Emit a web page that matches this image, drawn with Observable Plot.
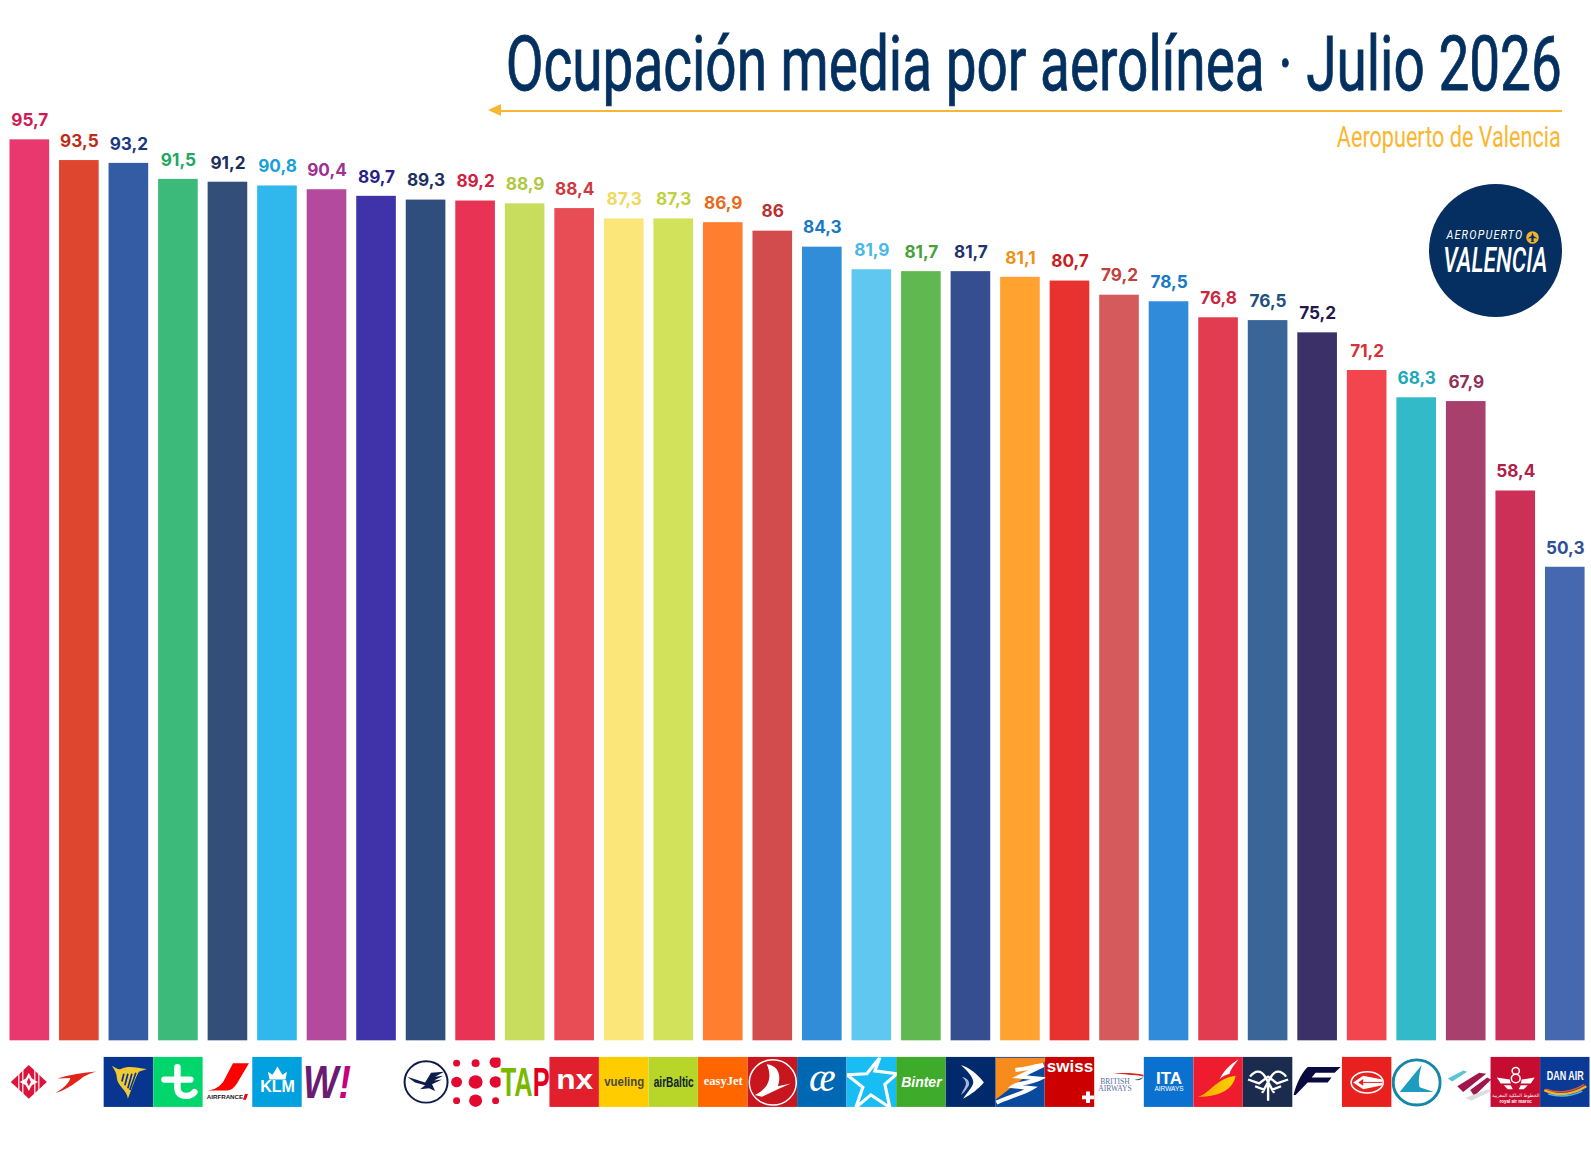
<!DOCTYPE html>
<html lang="es">
<head>
<meta charset="utf-8">
<title>Ocupación media por aerolínea · Julio 2026</title>
<style>
  html,body{margin:0;padding:0;background:#fff;}
  #page{position:relative;width:1591px;height:1150px;overflow:hidden;background:#fff;}
  #chart{position:absolute;left:0;top:0;}
  #chart svg{display:block;}
  .fit{position:absolute;white-space:nowrap;margin:0;line-height:1;font-family:Roboto,"Liberation Sans",sans-serif;font-weight:500;transform-origin:100% 50%;}
  #title{color:#03305f;font-size:76px;font-weight:400;top:26px;right:29px;-webkit-text-stroke:.9px #03305f;}
  #subtitle{color:#fbb62e;font-size:30px;top:122px;right:30px;font-weight:400;}
  #rule{position:absolute;left:500px;width:1061.7px;top:110px;height:1.6px;background:#f7b733;}
  #arrow{position:absolute;left:488px;top:104px;width:0;height:0;border-top:6.5px solid transparent;border-bottom:6.5px solid transparent;border-right:13px solid #f7b733;}
  #badge{position:absolute;left:1429px;top:184px;width:133px;height:133px;border-radius:50%;background:#042f60;}
  #b1{color:#fff;font-size:13.5px;font-style:italic;font-weight:400;top:44px;right:39px;letter-spacing:1.5px;}
  #b2{color:#fff;font-size:35px;line-height:28px;font-style:italic;font-weight:500;top:63px;right:15px;}
  #plane{position:absolute;left:96.5px;top:47px;}
</style>
</head>
<body>
<div id="page">
  <div id="chart"></div>
  <h1 id="title" class="fit">Ocupación media por aerolínea · Julio 2026</h1>
  <div id="rule"></div><div id="arrow"></div>
  <div id="subtitle" class="fit">Aeropuerto de Valencia</div>
  <div id="badge">
    <div id="b1" class="fit">AEROPUERTO</div>
    <svg id="plane" width="13" height="13" viewBox="0 0 13 13"><circle cx="6.5" cy="6.5" r="6.3" fill="#f3b229"/><path d="M6.5 1.5 L7.7 5 L11.5 7.5 L7.7 7 L7.5 10 L8.5 11 L4.5 11 L5.5 10 L5.3 7 L1.5 7.5 L5.3 5Z" fill="#042f60"/></svg>
    <div id="b2" class="fit">VALENCIA</div>
  </div>
</div>

<script src="https://cdn.jsdelivr.net/npm/d3@7"></script>
<script src="https://cdn.jsdelivr.net/npm/@observablehq/plot@0.6"></script>
<script>
// ---------- chart values ----------
const airlines = ["Air Nostrum","Olympic","Ryanair","Transavia","Air France","KLM","Wizz Air","Sin logo","Lufthansa","Puntos","TAP","Norwegian","Vueling","airBaltic","easyJet","Turkish Airlines","Air Europa","Air Transat","Binter","Aegean","Sky Express","Swiss","British Airways","ITA Airways","Iberia","Air Serbia","Finnair","Air Algérie","Luxair","Eurowings","Royal Air Maroc","Dan Air"];
const occupancy = [95.7,93.5,93.2,91.5,91.2,90.8,90.4,89.7,89.3,89.2,88.9,88.4,87.3,87.3,86.9,86,84.3,81.9,81.7,81.7,81.1,80.7,79.2,78.5,76.8,76.5,75.2,71.2,68.3,67.9,58.4,50.3];
const barColors = ["#e8386d","#de4630","#345ca4","#3cba7a","#334f79","#30b8ec","#b44a9e","#4033aa","#2f4e7e","#e83355","#c8dc5e","#e84d55","#fbe67a","#d2e25a","#ff7e30","#d24b4d","#318dd8","#60c8f0","#60b850","#354e90","#ffa230","#e83230","#d45a5c","#308cda","#e23c50","#3a6598","#3b3068","#f2454e","#32bac8","#a8406e","#cc3056","#4668b0"];
const labelColors = ["#d01a56","#c02a18","#1a3a80","#1fa862","#1a2e58","#18a0d8","#a03090","#2a1f88","#1b3260","#d02040","#b0c840","#d03840","#f0d860","#c0d040","#e86a18","#b83030","#1a78c8","#48b8e8","#48a038","#1e3470","#f09018","#c82020","#c04040","#1a78c8","#c82840","#22507f","#22184f","#d83038","#20a8b8","#903058","#b02048","#2e5098"];
const bars = airlines.map((airline,i)=>({airline,value:occupancy[i],color:barColors[i],ink:labelColors[i]}));

// ---------- logo row ----------
const tileColors = {"Ryanair":"#073590","Transavia":"#00d66c","KLM":"#00a1de","Norwegian":"#e21f2d","Vueling":"#ffcc00","airBaltic":"#b7d629","easyJet":"#ff6600","Turkish Airlines":"#c8161e","Air Europa":"#0068b2","Air Transat":"#18bef3","Binter":"#3fab2b","Aegean":"#002a6c","Sky Express":"#0a4a9e","Swiss":"#cc0000","ITA Airways":"#0b71d1","Iberia":"#ee1c2e","Air Serbia":"#1a2b4d","Air Algérie":"#e8201e","Royal Air Maroc":"#c60c30","Dan Air":"#0b3a96"};
const tiles = Object.entries(tileColors).map(([airline,color])=>({airline,color}));
const glyphs = {
  "Air Nostrum":`<path fill="#dc143c" d="M24 8 L42 25.5 L24 43 L6 25.5Z"/><path fill="none" stroke="#fff" stroke-width="1.2" d="M14 14 V37 M18 11 V40 M30 11 V40 M34 14 V37"/><path fill="#fff" d="M24 16 L27 22 L33 25.5 L27 29 L24 35 L21 29 L15 25.5 L21 22Z"/><path fill="#dc143c" d="M24 21 L26 25.5 L24 30 L22 25.5Z"/>`,
  "Olympic":`<path fill="#e2231a" d="M42 14.7 C30 16 14 18 3 22 L16 21.5 C15 27 8 33 1 37 C14 33 24 24 29 20 C33 18 38 16 42 14.7Z"/>`,
  "Ryanair":`<path fill="#f1c933" d="M8 9 C11 10 13 13 17 12 C25 8 33 11 43 12 L35 15 C31 22 28 33 24 43 C23 34 14 30 13 22 C13 17 11 13 8 9Z"/><path stroke="#073590" stroke-width="1.7" fill="none" d="M20 17 L18 25 M24 17 L21 29 M28 17 L24 32 M32 16 L26 34"/>`,
  "Transavia":`<path d="M24 10 V31 Q24 40 33 40 Q38 40 41 36 M11 23 H37" stroke="#fff" stroke-width="6.5" fill="none" stroke-linecap="round"/>`,
  "Air France":`<path fill="#f00" d="M30 6 H46 L34 27 Q30 34 24 34.5 H5 Q18 33 23 20Z M42 38 H45 L43 44 H40Z"/>`,
  "KLM":`<path fill="#fff" d="M17 23 L15.5 15 L20 18 L23 13 L25 9.5 L27 13 L30 18 L34.5 15 L33 23Z"/>`,
  "Lufthansa":`<circle cx="25" cy="25.5" r="21.5" fill="#fff" stroke="#0d1c4b" stroke-width="2"/><path fill="#0d1c4b" d="M6 20 L24 26 L30 16 L43 15 L34 20 L42 19 L33 24 L41 23 L31 28 L34 35 L28 32 L19 33 L24 29 L14 26Z"/>`,
  "Puntos":`<g fill="#e30a31"><circle cx="6" cy="6" r="3.5"/><circle cx="25" cy="6" r="4"/><circle cx="45" cy="5" r="6"/><circle cx="6" cy="25.5" r="5.5"/><circle cx="25" cy="25.5" r="7"/><circle cx="45" cy="25.5" r="6"/><circle cx="6" cy="45" r="3.5"/><circle cx="25" cy="45" r="6.5"/><circle cx="45" cy="45" r="3.5"/></g>`,
  "Turkish Airlines":`<circle cx="25" cy="26" r="23.5" fill="none" stroke="#fff" stroke-width="1.5"/><path fill="#fff" d="M19 7 C30 8 34 18 30 30 L43 27 L30 33 L14 41 L7 39 C18 34 26 24 19 7Z"/>`,
  "Air Transat":`<path fill="none" stroke="#fff" stroke-width="3.2" stroke-linejoin="miter" d="M33 0 L28 14 L50 17 L38 28 L43 52 L24 39 L9 52 L16 31 L0 18 L20 17Z"/>`,
  "Aegean":`<path fill="#fff" d="M15 8 C24 11 32 18 38 26 C32 33 26 38 17 43 C21 37 25 33 27 28 C29 24 24 16 15 8Z"/><path fill="#a9b4de" d="M16 20 C22 22 24 25 23 29 C21 33 18 37 15 39 C17 34 20 30 20 27 C20 24 18 22 16 20Z"/>`,
  "Sky Express":`<path fill="#f68b1e" d="M0 0 H50 V4 L0 44Z"/><path fill="none" stroke="#fff" stroke-width="4.2" d="M20 13 C30 12 40 9 48 8 L24 20 L44 22 C34 27 22 27 18 30 L36 32 C26 38 10 42 1 47"/>`,
  "Swiss":`<path fill="#fff" d="M41 35.5 H45 V39.5 H49 V43.5 H45 V47.5 H41 V43.5 H37 V39.5 H41Z"/>`,
  "British Airways":`<path fill="#e2231a" d="M19 17 C28 15.5 40 16 49 18 L49 19.8 C40 18 28 17.5 19 17Z"/><path fill="#2a4a8e" d="M40 23 C44 23 48 21 49 20 C47 23.5 43 24.5 40 23Z"/>`,
  "Iberia":`<defs><linearGradient id="ib" x1="0" x2="1"><stop offset="0" stop-color="#f9a400"/><stop offset="1" stop-color="#ffd200"/></linearGradient></defs><path fill="url(#ib)" d="M4 41 C16 38 22 22 42 19 C40 32 28 41 4 41Z"/><path fill="#fff" d="M26 23 C30 14 37 7 45 2 C41 8 37 12 36 17 C32 18 28 20 26 23Z"/>`,
  "Air Serbia":`<path fill="none" stroke="#fff" stroke-width="2.4" d="M7 20 C12 13 18 13 22 20 L31 37 M43 20 C38 13 32 13 28 20 L19 37 M5 23 L16 27 L25 20 L34 27 L45 23 M12 30 L22 34 M38 30 L28 34 M25 27 V45"/>`,
  "Finnair":`<path fill="#0a0a40" d="M15 10 H48 L42 16 H23 L19 21 H39 L35 26 H15 L3 39 H1 C3 30 8 17 15 10Z"/>`,
  "Air Algérie":`<ellipse cx="25" cy="26" rx="16" ry="11" fill="none" stroke="#fff" stroke-width="1.6"/><path fill="#fff" d="M11 26 L21 19 L40 23 V29 L21 33Z"/><path fill="#e8201e" d="M16 26 L21 22.5 V29.5Z"/><path stroke="#e8201e" stroke-width="1" d="M21 26 H40"/>`,
  "Luxair":`<circle cx="25" cy="26" r="23.5" fill="#fff" stroke="#1487a8" stroke-width="3"/><path fill="#1e9cc0" d="M30 8 L8 36 L42 36 L28 31 C26 24 28 16 30 8Z"/>`,
  "Eurowings":`<path fill="#5cc4d6" d="M6.6 22 L22 13.7 L26 15 L11 25Z"/><path fill="#a0174e" d="M16 30 L38 16 L45 17 L22 36Z M29 34 L46 21 L50 23 L33 40Z"/><path fill="#ddd" d="M24 42 L47 33 L50 35 L30 45Z"/>`,
  "Royal Air Maroc":`<g fill="none" stroke="#fff" stroke-width="1.5"><circle cx="25" cy="14" r="3.6"/><circle cx="25" cy="22" r="4.4"/></g><path fill="#fff" d="M6 21 L19 23 L20 27 L10 27Z M44 21 L31 23 L30 27 L40 27Z M13 29 L20 29 L22 33 L17 33Z M37 29 L30 29 L28 33 L33 33Z"/>`,
  "Dan Air":`<path fill="none" stroke="#e2503a" stroke-width="1.6" d="M6 33 C18 38 32 36 44 28"/><path fill="none" stroke="#f5b321" stroke-width="2.6" d="M4 34 C18 41 32 39 46 30"/><path fill="none" stroke="#56b6e8" stroke-width="1.6" d="M8 38 C20 42 32 40 42 35"/>`
};
const toSrc = body => "data:image/svg+xml;utf8," + encodeURIComponent(`<svg xmlns="http://www.w3.org/2000/svg" viewBox="0 0 50 52" width="50" height="50" preserveAspectRatio="none">${body}</svg>`);
const logoImages = Object.entries(glyphs).map(([airline,body])=>({airline,src:toSrc(body)}));

// ---------- scales ----------
const PLOT_W = 1591, PLOT_H = 1150;
const Y_MIN = -11.65, Y_MAX = 110.5;
const PX_PER_UNIT = PLOT_H/(Y_MAX-Y_MIN);
const TILE_TOP = -16.6/PX_PER_UNIT, TILE_PX = 50, LOCAL_H = 52;
const vb = y => TILE_TOP - (y*TILE_PX/LOCAL_H)/PX_PER_UNIT;   // logo-local row -> y value

// word marks in the logo row are real text
const SANS = "'Liberation Sans',sans-serif", SERIF = "'Liberation Serif',serif";
const word = (airline,text,fill,fontSize,row,o={}) => Plot.text([airline],{
  x:d=>d, y:()=>vb(row), text:()=>text, fill, fontSize, fontFamily:SANS, fontWeight:700, ...o});

// words condensed to the logo's width: text -> target width in px
const condensed = {"TAP":49,"W!":48,"airBaltic":40,"vueling":40,"easyJet":39,"nx":37,"DAN AIR":37};
// words with two inks
const twoInk = {"TAP":["TA","#7ab800","P","#e1001a"],"W!":["W","#6a1b72","!","#c6007e"]};

const marks = [
  Plot.barY(bars,{x:"airline",y:"value",fill:"color"}),
  Plot.text(bars,{x:"airline",y:"value",text:d=>String(d.value).replace(".",","),fill:"ink",
    lineAnchor:"bottom",dy:-13.7,fontSize:17.2,fontWeight:700,fontFamily:"Inter,sans-serif"}),
  Plot.barY(tiles,{x:"airline",y1:()=>vb(0),y2:()=>vb(LOCAL_H),fill:"color",insetLeft:-4.9,insetRight:-4.9}),
  Plot.image(logoImages,{x:"airline",y:()=>vb(LOCAL_H/2),width:50,height:TILE_PX,src:"src",preserveAspectRatio:"none"}),
  word("Air France","AIRFRANCE","#222",6.2,41,{dx:-3}),
  word("KLM","KLM","#fff",16,31),
  word("Wizz Air","W!","#6a1b72",46,27,{fontStyle:"italic"}),
  word("TAP","TAP","#7ab800",41,26),
  word("Norwegian","nx","#fff",28,24),
  word("Vueling","vueling","#4a4a3a",12.5,26),
  word("airBaltic","airBaltic","#10222e",15,26),
  word("easyJet","easyJet","#fff",12,25,{fontFamily:SERIF}),
  word("Air Europa","æ","#fff",40,22,{fontFamily:SERIF,fontStyle:"italic",fontWeight:400}),
  word("Binter","Binter","#fff",14,26,{fontStyle:"italic"}),
  word("Swiss","swiss","#fff",17,10),
  word("British Airways","BRITISH","#5a6e9c",7.6,25.5,{dx:-4.5,fontFamily:SERIF,fontWeight:400}),
  word("British Airways","AIRWAYS","#5a6e9c",7.6,32,{dx:-4.5,fontFamily:SERIF,fontWeight:400}),
  word("ITA Airways","ITA","#fff",17,22),
  word("ITA Airways","AIRWAYS","#fff",6.5,33,{fontWeight:400}),
  word("Royal Air Maroc","الخطوط الملكية المغربية","#fff",4.6,40,{fontWeight:400,fontFamily:"'DejaVu Sans',sans-serif"}),
  word("Royal Air Maroc","royal air maroc","#fff",4.5,46),
  word("Dan Air","DAN AIR","#fff",13,19)
];

const chart = Plot.plot({
  width:PLOT_W, height:PLOT_H,
  marginTop:0, marginRight:0, marginBottom:0, marginLeft:0,
  style:{background:"transparent"},
  x:{type:"band",domain:airlines,range:[-0.4,1594.5],padding:0.2,round:false,axis:null},
  y:{domain:[Y_MIN,Y_MAX],axis:null},
  color:{type:"identity"},
  marks
});
document.getElementById("chart").append(chart);

// condensed faces are not installed: squeeze those words around their own centre
const condense = () => chart.querySelectorAll("text").forEach(t=>{
  const s = t.textContent;
  if (!t.dataset.base) t.dataset.base = t.getAttribute("transform") || "";
  if (twoInk[s] && !t.querySelector("tspan")) {
    const [a,ca,b,cb] = twoInk[s];
    t.textContent = "";
    [[a,ca],[b,cb]].forEach(([txt,col])=>{
      const sp = document.createElementNS("http://www.w3.org/2000/svg","tspan");
      sp.textContent = txt; sp.setAttribute("fill",col); t.append(sp);
    });
  }
  if (condensed[s]) t.setAttribute("transform",`${t.dataset.base} scale(${condensed[s]/t.getComputedTextLength()},1)`);
});

// fit the header text to the reference widths
const fits = {title:1056,subtitle:224,b1:77,b2:104};
const doFit = () => Object.entries(fits).forEach(([id,w])=>{
  const el=document.getElementById(id); el.style.transform="";
  el.style.transform=`scaleX(${w/el.getBoundingClientRect().width})`;
});
condense(); doFit();
if (document.fonts && document.fonts.ready) document.fonts.ready.then(()=>{condense();doFit();});
</script>
</body>
</html>
